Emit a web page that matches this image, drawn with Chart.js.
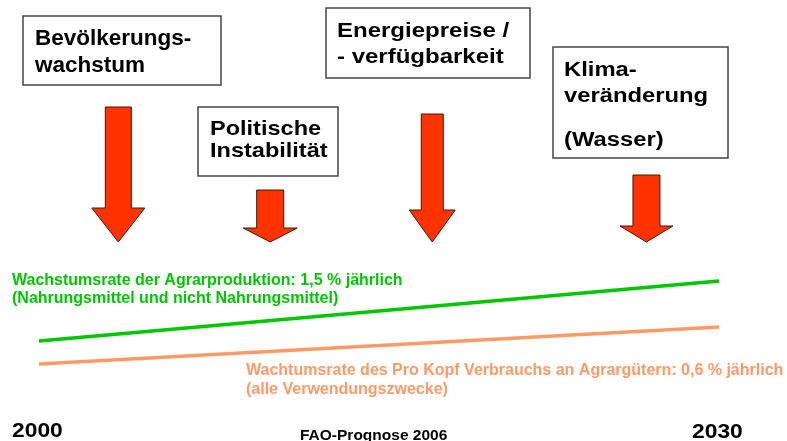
<!DOCTYPE html>
<html>
<head>
<meta charset="utf-8">
<script src="https://cdn.jsdelivr.net/npm/chart.js@4.4.1/dist/chart.umd.min.js"></script>
<style>
  html, body { margin: 0; padding: 0; background: #ffffff; }
  #wrap { width: 787px; height: 441px; position: relative; }
</style>
</head>
<body>
<div id="wrap"><canvas id="c"></canvas></div>
<script>
// ---- data ----
const years = [2000, 2030];
const agrarProduktion = [10.0, 16.0];     // relative level, 1,5 % p.a.
const proKopfVerbrauch = [7.7, 11.4];     // relative level, 0,6 % p.a.
const yearLabels = ['2000', '2030'];

const driverLabels = [
  ['Bevölkerungs-', 'wachstum'],
  ['Politische', 'Instabilität'],
  ['Energiepreise /', '- verfügbarkeit'],
  ['Klima-', 'veränderung', '(Wasser)']
];
const arrowYears = [2003.5, 2010.2, 2017.35, 2026.8];
const arrowTop   = [33.4, 25.1, 32.7, 26.6];
const arrowTip   = [19.9, 19.9, 19.9, 19.9];

const seriesLabels = [
  ['Wachstumsrate der Agrarproduktion: 1,5 % jährlich', '(Nahrungsmittel und nicht Nahrungsmittel)'],
  ['Wachtumsrate des Pro Kopf Verbrauchs an Agrargütern: 0,6 % jährlich', '(alle Verwendungszwecke)']
];
const sourceLabel = 'FAO-Prognose 2006';

// ---- styles / layout ----
const FONT = '"Liberation Sans", Arial, Helvetica, sans-serif';
const GREEN = '#00c800';
const ORANGE = '#ff9966';
const ARROW = '#ff3300';

const arrowStyle = [
  { shaft: 26, head: 53, headLen: 34 },
  { shaft: 27, head: 54, headLen: 14 },
  { shaft: 22, head: 46, headLen: 32 },
  { shaft: 27, head: 53, headLen: 16 }
];
const boxStyle = [
  { rect: [23, 16, 198, 69], tx: 35, base: [45, 72], size: 22.5, sx: 1.0 },
  { rect: [198, 107, 140, 69], tx: 210, base: [135, 157], size: 21, sx: 1.12 },
  { rect: [326, 8, 204, 70], tx: 337, base: [37, 63], size: 20, sx: 1.2 },
  { rect: [553, 47, 175, 111], tx: 564, base: [76, 102, 146], size: 20, sx: 1.19 }
];
const seriesLabelStyle = [
  { x: 12, base: [285, 303], color: GREEN },
  { x: 246, base: [375, 394], color: ORANGE }
];

function drawText(ctx, text, x, y, size, sx, color) {
  ctx.save();
  ctx.translate(x, y);
  ctx.scale(sx, 1);
  ctx.font = 'bold ' + size + 'px ' + FONT;
  ctx.fillStyle = color;
  ctx.textBaseline = 'alphabetic';
  ctx.textAlign = 'left';
  ctx.fillText(text, 0, 0);
  ctx.restore();
}

const overlay = {
  id: 'overlay',
  afterDatasetsDraw(chart) {
    const ctx = chart.ctx;
    const xs = chart.scales.x, ys = chart.scales.y;

    // arrows
    arrowYears.forEach((yr, i) => {
      const st = arrowStyle[i];
      const cx = xs.getPixelForValue(yr);
      const top = ys.getPixelForValue(arrowTop[i]);
      const tip = ys.getPixelForValue(arrowTip[i]);
      const hs = tip - st.headLen;
      ctx.save();
      ctx.beginPath();
      ctx.moveTo(cx - st.shaft / 2, top);
      ctx.lineTo(cx + st.shaft / 2, top);
      ctx.lineTo(cx + st.shaft / 2, hs);
      ctx.lineTo(cx + st.head / 2, hs);
      ctx.lineTo(cx, tip);
      ctx.lineTo(cx - st.head / 2, hs);
      ctx.lineTo(cx - st.shaft / 2, hs);
      ctx.closePath();
      ctx.fillStyle = ARROW;
      ctx.fill();
      ctx.lineWidth = 1;
      ctx.strokeStyle = '#3a1a10';
      ctx.stroke();
      ctx.restore();
    });

    // boxes
    driverLabels.forEach((lines, i) => {
      const b = boxStyle[i];
      ctx.save();
      ctx.fillStyle = '#ffffff';
      ctx.fillRect(b.rect[0], b.rect[1], b.rect[2], b.rect[3]);
      ctx.lineWidth = 1.5;
      ctx.strokeStyle = '#444444';
      ctx.strokeRect(b.rect[0], b.rect[1], b.rect[2], b.rect[3]);
      ctx.restore();
      lines.forEach((t, j) => drawText(ctx, t, b.tx, b.base[j], b.size, b.sx, '#000000'));
    });

    // series labels
    seriesLabels.forEach((lines, i) => {
      const s = seriesLabelStyle[i];
      lines.forEach((t, j) => drawText(ctx, t, s.x, s.base[j], 16, 1.0, s.color));
    });

    // year labels
    drawText(ctx, yearLabels[0], 12, 437, 19.5, 1.17, '#000000');
    drawText(ctx, yearLabels[1], 692, 438, 19.5, 1.17, '#000000');
    drawText(ctx, sourceLabel, 300, 440, 15.5, 1.0, '#000000');
  }
};

new Chart(document.getElementById('c'), {
  type: 'line',
  data: {
    datasets: [
      {
        label: seriesLabels[0][0],
        data: years.map((y, i) => ({ x: y, y: agrarProduktion[i] })),
        borderColor: GREEN,
        borderWidth: 3.5,
        pointRadius: 0,
        tension: 0,
        borderCapStyle: 'butt'
      },
      {
        label: seriesLabels[1][0],
        data: years.map((y, i) => ({ x: y, y: proKopfVerbrauch[i] })),
        borderColor: ORANGE,
        borderWidth: 3.5,
        pointRadius: 0,
        tension: 0,
        borderCapStyle: 'butt'
      }
    ]
  },
  options: {
    responsive: true,
    maintainAspectRatio: false,
    animation: false,
    layout: { padding: 0 },
    plugins: { legend: { display: false }, tooltip: { enabled: false }, title: { display: false } },
    scales: {
      x: { type: 'linear', min: 1998.28, max: 2033.0, display: false },
      y: { type: 'linear', min: 0, max: 44.1, display: false }
    }
  },
  plugins: [overlay]
});
</script>
</body>
</html>
